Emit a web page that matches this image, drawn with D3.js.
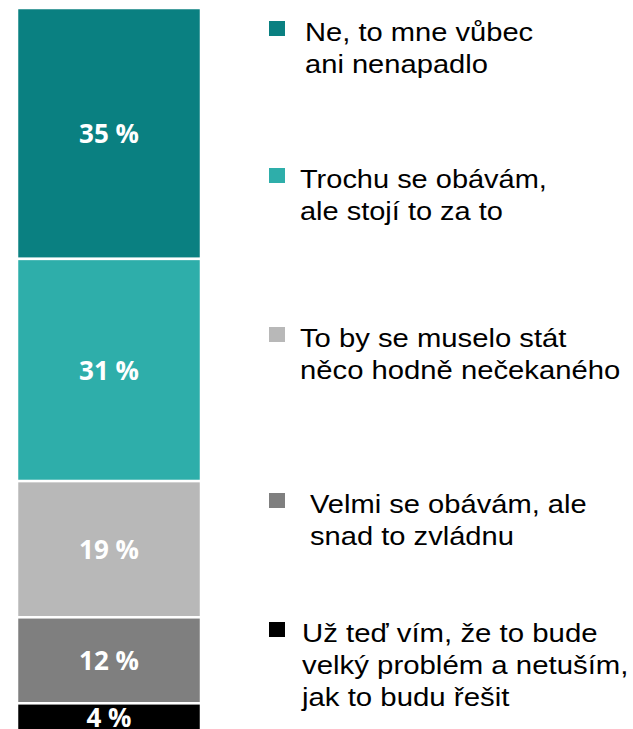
<!DOCTYPE html>
<html>
<head>
<meta charset="utf-8">
<script src="https://cdn.jsdelivr.net/npm/d3@7"></script>
<style>
  body { margin: 0; background: #fff; }
  svg { display: block; }
</style>
</head>
<body>
<svg width="633" height="729"></svg>
<script>
// data
const categories = [
  "Ne, to mne vůbec\nani nenapadlo",
  "Trochu se obávám,\nale stojí to za to",
  "To by se muselo stát\nněco hodně nečekaného",
  "Velmi se obávám, ale\nsnad to zvládnu",
  "Už teď vím, že to bude\nvelký problém a netuším,\njak to budu řešit"
];
const values = [35, 31, 19, 12, 4];
const colors = ["#0a8081", "#2eaeaa", "#b8b8b8", "#7f7f7f", "#000000"];

// layout of the legend (first-line baseline, text x, horizontal stretch)
const legendBaseline = [41, 188, 347, 513, 642];
const legendTextX = [305, 300, 300, 310, 302];
const legendStretch = [1.12, 1.115, 1.125, 1.12, 1.13];

const svg = d3.select("svg");

let acc = 0;
const stack = values.map((v, i) => {
  const d = { i, value: v, y0: acc, y1: acc + v };
  acc += v;
  return d;
});

const y = d3.scaleLinear()
  .domain([0, d3.sum(values)])
  .range([8, 732]);

const barX = 17, barW = 184;

const bar = svg.append("g");

bar.selectAll("rect")
  .data(stack)
  .enter()
  .append("rect")
  .attr("x", barX)
  .attr("y", d => y(d.y0))
  .attr("width", barW)
  .attr("height", d => y(d.y1) - y(d.y0))
  .attr("fill", d => colors[d.i])
  .attr("stroke", "#fff")
  .attr("stroke-width", 2.5);

bar.selectAll("text")
  .data(stack)
  .enter()
  .append("text")
  .attr("x", barX + barW / 2)
  .attr("y", d => (y(d.y0) + y(d.y1)) / 2 + 9.5)
  .attr("text-anchor", "middle")
  .attr("fill", "#fff")
  .style("font-family", "'Open Sans', sans-serif")
  .style("font-weight", "bold")
  .style("font-size", "26px")
  .text(d => d.value + " %");

// legend
const legend = svg.append("g")
  .selectAll(".item")
  .data(categories)
  .enter()
  .append("g")
  .attr("class", "item")
  .attr("transform", (d, i) => `translate(0, ${legendBaseline[i]})`);

legend.append("rect")
  .attr("x", 269)
  .attr("y", -20)
  .attr("width", 16)
  .attr("height", 15)
  .attr("fill", (d, i) => colors[i]);

legend.append("text")
  .attr("transform", (d, i) => `translate(${legendTextX[i]}, 0) scale(${legendStretch[i]}, 1)`)
  .attr("fill", "#000")
  .style("font-family", "'Liberation Sans', Arial, sans-serif")
  .style("font-size", "26px")
  .selectAll("tspan")
  .data(d => d.split("\n"))
  .enter()
  .append("tspan")
  .attr("x", 0)
  .attr("y", (d, j) => j * 32)
  .text(d => d);
</script>
</body>
</html>
